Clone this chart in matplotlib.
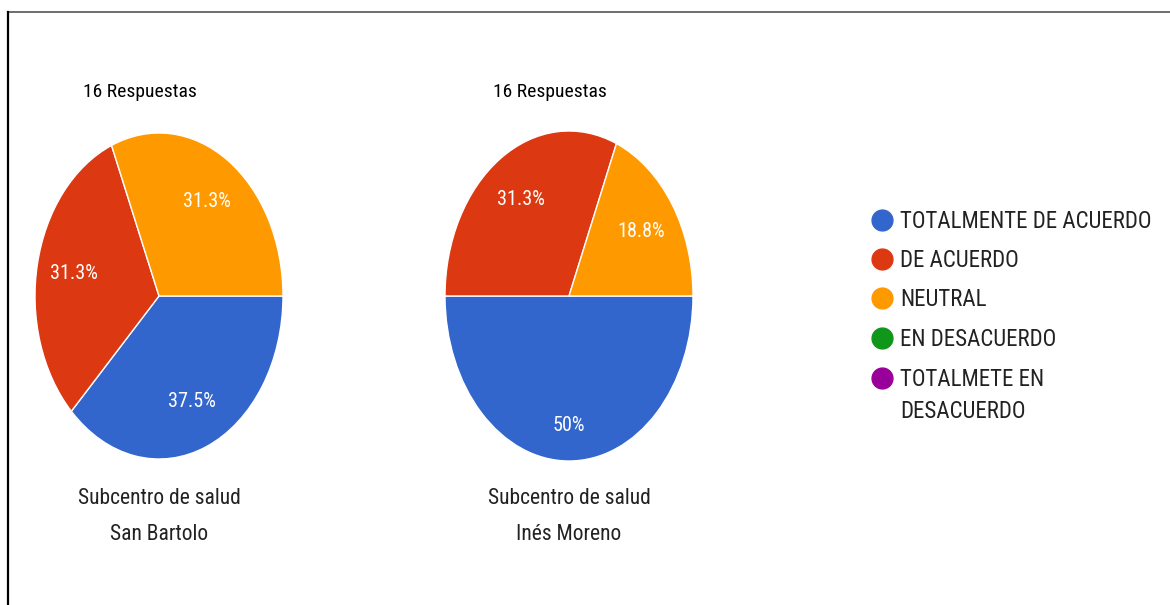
import math
import matplotlib.pyplot as plt
from matplotlib.lines import Line2D

categories = ['TOTALMENTE DE ACUERDO', 'DE ACUERDO', 'NEUTRAL',
              'EN DESACUERDO', 'TOTALMETE EN\nDESACUERDO']
colors = ['#3366CC', '#DC3912', '#FF9900', '#109618', '#990099']

san_bartolo = [6, 5, 5, 0, 0]
ines_moreno = [8, 5, 3, 0, 0]
responses = [16, 16]
titles = ['Subcentro de salud\nSan Bartolo', 'Subcentro de salud\nInés Moreno']

plt.rcParams['font.family'] = ['Roboto Condensed', 'DejaVu Sans']

W, H = 1170, 605
fig = plt.figure(figsize=(W / 100, H / 100), dpi=100)


def px_box(left, top, right, bottom):
    return [left / W, 1 - bottom / H, (right - left) / W, (bottom - top) / H]


def fmt_pct(p):
    # round half up like the original (31.25 -> 31.3)
    v = math.floor(float(p) * 10 + 0.5 + 1e-9) / 10
    s = f'{v:.1f}'.rstrip('0').rstrip('.')
    return s + '%'


boxes = [px_box(35, 133, 283, 459), px_box(445, 131, 693, 461)]
centers_x = [159, 569]

for box, vals, n, title, cx in zip(boxes, [san_bartolo, ines_moreno], responses, titles, centers_x):
    ax = fig.add_axes(box)
    keep = [i for i, v in enumerate(vals) if v > 0]
    wedges, texts, autotexts = ax.pie(
        [vals[i] for i in keep], colors=[colors[i] for i in keep],
        startangle=0, counterclock=False, radius=1,
        autopct=fmt_pct, pctdistance=0.7,
        wedgeprops=dict(edgecolor='white', linewidth=1),
        textprops=dict(color='white', fontsize=14.5))
    ax.set_aspect('auto')
    ax.set_xlim(-1, 1)
    ax.set_ylim(-1, 1)
    # the half-pie label sits a bit lower in the original
    if vals[0] / n == 0.5:
        x, y = autotexts[0].get_position()
        autotexts[0].set_position((x, y * 1.12))
    fig.text((cx - 19) / W, 1 - 92 / H, f'{n} Respuestas', ha='center', va='center', fontsize=14)
    for k, line in enumerate(title.split('\n')):
        fig.text(cx / W, 1 - (499 + 36 * k) / H, line, ha='center', va='center',
                 fontsize=15.5, color='#222222')

# legend
leg_y = [220, 259, 298, 338, 378]
for cat, col, y in zip(categories, colors, leg_y):
    fig.add_artist(Line2D([882 / W], [1 - y / H], marker='o', markersize=15,
                          color=col, linestyle='none'))
    for k, line in enumerate(cat.split('\n')):
        fig.text(900 / W, 1 - (y + 8 + 32 * k) / H, line, ha='left', va='baseline',
                 fontsize=16.5, color='#222222')

# frame lines
fig.add_artist(Line2D([8 / W, 1], [1 - 12 / H, 1 - 12 / H], color='#555555', linewidth=1.2))
fig.add_artist(Line2D([8 / W, 8 / W], [0, 1 - 12 / H], color='black', linewidth=1.6))

fig.savefig('out.png', dpi=100)
